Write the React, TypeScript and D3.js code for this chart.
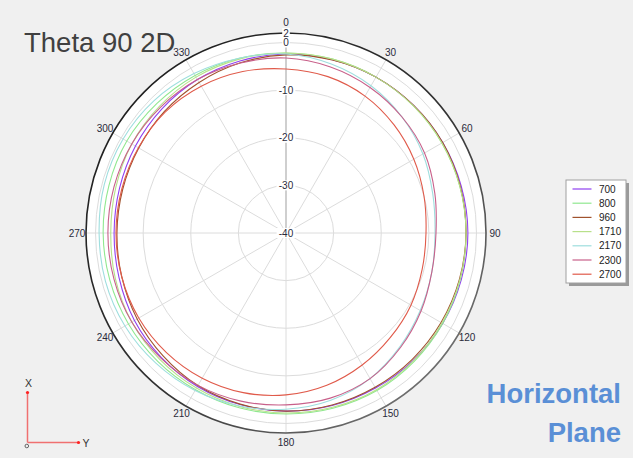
import { useEffect } from 'react';
import * as d3 from 'd3';

// angles in degrees, 0 at top, clockwise
const angles = d3.range(0, 360, 15);

const freqs = ['700', '800', '960', '1710', '2170', '2300', '2700'];
const colors = ['#9040f0', '#90e890', '#a0522d', '#b8e08a', '#9edede', '#c8608a', '#e05a4a'];

// gain in dB read at each angle (every 15 deg)
const g700 = [-2.4, -2.3, -2.2, -2.1, -2.0, -1.9, -1.8, -1.9, -2.0, -2.2, -2.4, -2.5, -2.6, -2.7, -2.8, -3.0, -3.25, -3.7, -3.9, -3.8, -3.5, -3.15, -2.8, -2.6];
const g800 = [-2.2, -2.2, -2.2, -2.2, -2.2, -2.2, -2.2, -2.1, -2.0, -1.9, -1.8, -1.9, -2.0, -2.0, -2.0, -1.9, -1.8, -1.7, -1.6, -1.5, -1.4, -1.6, -1.8, -2.0];
const g960 = [-2.6, -2.4, -2.2, -2.1, -2.0, -2.1, -2.2, -2.3, -2.4, -2.5, -2.6, -2.6, -2.6, -2.8, -3.0, -3.5, -3.9, -4.3, -4.5, -4.5, -4.3, -3.9, -3.5, -3.0];
const g1710 = [-2.2, -2.2, -2.2, -2.2, -2.2, -2.2, -2.2, -2.2, -2.2, -2.1, -2.0, -2.1, -2.2, -2.3, -2.4, -2.5, -2.6, -2.9, -3.2, -3.0, -2.6, -2.4, -2.2, -2.2];
const g2170 = [-2.4, -3.25, -4.3, -5.55, -6.8, -8.1, -8.7, -8.3, -7.45, -6.2, -4.7, -3.65, -3.0, -2.4, -1.8, -1.35, -0.95, -0.75, -0.75, -0.5, -0.5, -0.75, -1.35, -2.0];
const g2300 = [-3.25, -3.9, -4.7, -5.55, -6.4, -7.65, -8.5, -8.3, -7.25, -6.0, -4.7, -4.1, -3.9, -3.45, -3.05, -2.85, -2.6, -2.6, -2.6, -2.6, -2.6, -2.7, -2.8, -3.05];
const g2700 = [-5.55, -6.0, -6.8, -7.9, -9.0, -10.0, -10.6, -10.4, -9.7, -9.0, -8.0, -6.9, -6.0, -5.3, -4.8, -4.5, -4.3, -4.3, -4.3, -4.3, -4.2, -4.1, -4.4, -4.9];

const series = [g700, g800, g960, g1710, g2170, g2300, g2700];

const ringTicks = [-30, -20, -10, 0];
const radialLabels = [-40, -30, -20, -10, 0, 2];
const spokes = d3.range(0, 360, 30);

const W = 633;
const H = 458;
const cx = 286;
const cy = 233;

const App = () => {
  useEffect(() => {
    document.body.style.margin = '0';
  }, []);

  const r = d3.scaleLinear().domain([-40, 2]).range([0, 200]);
  const rad = (d: number) => (d * Math.PI) / 180;

  const line = d3
    .lineRadial<number>()
    .angle((_, i) => rad(angles[i]))
    .radius((d) => r(d))
    .curve(d3.curveCatmullRomClosed.alpha(0.5));

  const font = 'Liberation Sans, Arial, sans-serif';

  return (
    <svg width={W} height={H} style={{ display: 'block', background: '#f0f0f0' }}>
      <defs>
        <linearGradient id="rim" x1="0" y1="0" x2="1" y2="1">
          <stop offset="0%" stopColor="#1a1a1a" />
          <stop offset="55%" stopColor="#333333" />
          <stop offset="100%" stopColor="#8a8a8a" />
        </linearGradient>
      </defs>

      {/* title */}
      <text x={24} y={52} fontFamily={font} fontSize={27.5} fill="#404040">
        Theta 90 2D
      </text>

      <g transform={`translate(${cx},${cy})`}>
        <circle r={r(2)} fill="#ffffff" />
        {ringTicks.map((t) => (
          <circle key={t} r={r(t)} fill="none" stroke="#dcdcdc" strokeWidth={1} />
        ))}
        {spokes.map((a) => (
          <line
            key={a}
            x1={0}
            y1={0}
            x2={r(2) * Math.sin(rad(a))}
            y2={-r(2) * Math.cos(rad(a))}
            stroke={a === 0 ? '#cfcfcf' : '#dcdcdc'}
            strokeWidth={a === 0 ? 2 : 1}
          />
        ))}

        {series.map((s, i) => (
          <path key={freqs[i]} d={line(s) || ''} fill="none" stroke={colors[i]} strokeWidth={1.1} />
        ))}

        <circle r={r(2)} fill="none" stroke="url(#rim)" strokeWidth={1.6} />

        {radialLabels.map((t) => {
          const label = String(t);
          const w = label.length * 5.6 + 2;
          return (
            <g key={t} transform={`translate(0,${-r(t)})`}>
              <rect x={-w / 2} y={-5} width={w} height={10} fill="#ffffff" />
              <text
                textAnchor="middle"
                dy="0.35em"
                fontFamily={font}
                fontSize={10}
                fill="#2a2a3a"
              >
                {label}
              </text>
            </g>
          );
        })}

        {spokes.map((a) => {
          const lr = a === 0 ? 211 : 209;
          return (
            <text
              key={a}
              x={lr * Math.sin(rad(a))}
              y={-lr * Math.cos(rad(a))}
              dy="0.35em"
              textAnchor="middle"
              fontFamily={font}
              fontSize={10}
              fill="#2a2a3a"
            >
              {a}
            </text>
          );
        })}
      </g>

      {/* legend */}
      <g transform="translate(566,180)">
        <rect x={3} y={3} width={60} height={103} fill="#9a9a9a" />
        <rect x={0} y={0} width={60} height={103} fill="#ffffff" stroke="#a0a0a0" strokeWidth={1} />
        {freqs.map((f, i) => (
          <g key={f} transform={`translate(0,${9 + i * 14.2})`}>
            <line x1={6.5} x2={25.5} y1={0} y2={0} stroke={colors[i]} strokeWidth={1.2} />
            <text x={33} dy="0.35em" fontFamily={font} fontSize={10} fill="#222">
              {f}
            </text>
          </g>
        ))}
      </g>

      {/* axis icon */}
      <g fontFamily={font} fontSize={10.5} fill="#333">
        <line x1={27.5} y1={442.5} x2={27.5} y2={392.5} stroke="#f07070" strokeWidth={1.5} />
        <line x1={27.5} y1={442.5} x2={78.5} y2={442.5} stroke="#f07070" strokeWidth={1.5} />
        <circle cx={27.5} cy={392.5} r={1.6} fill="#ff2020" />
        <circle cx={78.5} cy={442.5} r={1.6} fill="#ff2020" />
        <circle cx={26.8} cy={446} r={1.8} fill="none" stroke="#555" strokeWidth={0.9} />
        <text x={28.5} y={386.5} textAnchor="middle">
          X
        </text>
        <text x={86} y={446.5} textAnchor="middle">
          Y
        </text>
      </g>

      {/* plane label */}
      <g fontFamily={font} fontWeight="bold" fontSize={27.5} fill="#5a8fd6" textAnchor="end">
        <text x={621} y={403}>
          Horizontal
        </text>
        <text x={621} y={442}>
          Plane
        </text>
      </g>
    </svg>
  );
};

export default App;
